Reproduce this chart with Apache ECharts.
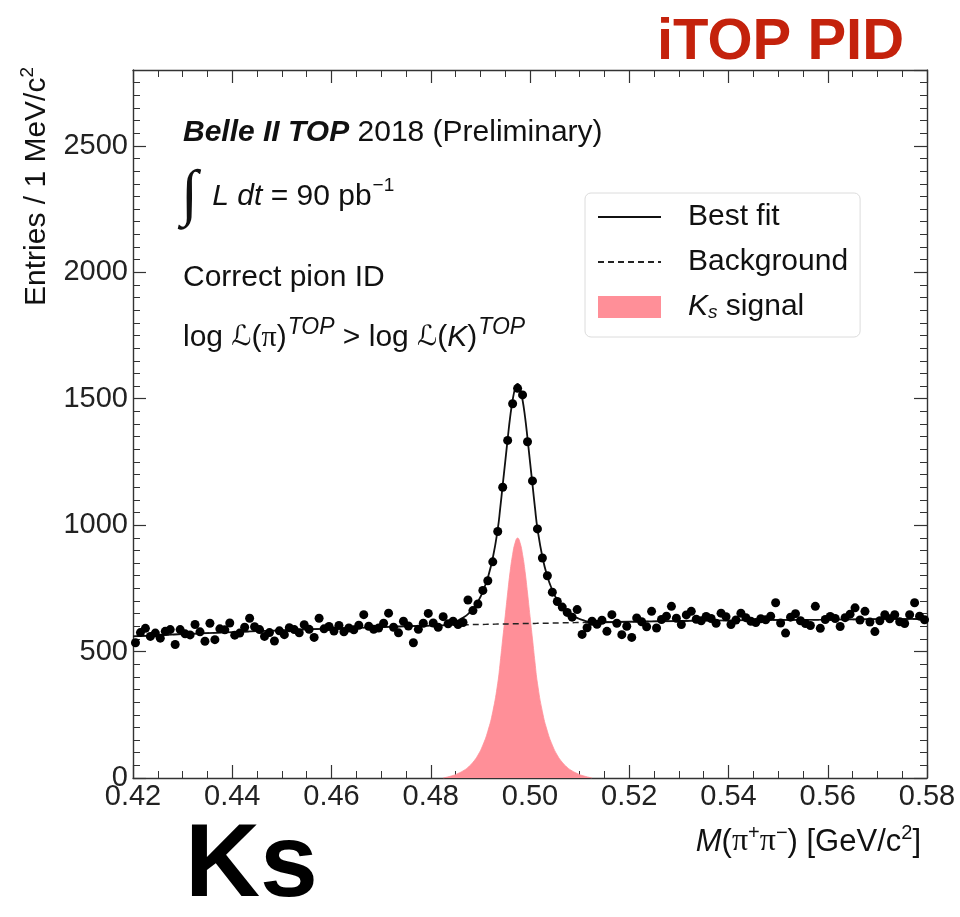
<!DOCTYPE html>
<html>
<head>
<meta charset="utf-8">
<script src="https://cdn.jsdelivr.net/npm/echarts@6/dist/echarts.min.js"></script>
<style>html,body{margin:0;padding:0;background:#fff}#c{width:960px;height:917px}</style>
</head>
<body>
<div id="c"></div>
<script>
// ---- histogram binning (1 MeV bins from 0.42 to 0.58 GeV) ----
const binLow = 0.42;
const binWidth = 0.001;

// ---- entries per bin ----
const counts = [
  535, 575, 592, 560, 573, 553, 580, 587, 528, 587,
  570, 566, 607, 578, 541, 612, 547, 590, 586, 613,
  565, 573, 596, 632, 598, 587, 560, 575, 542, 582,
  567, 594, 587, 574, 606, 588, 556, 632, 590, 599,
  581, 603, 578, 593, 586, 604, 646, 600, 588, 593,
  612, 652, 596, 574, 620, 601, 535, 588, 612, 651,
  613, 596, 638, 610, 620, 607, 615, 704, 662, 688,
  742, 780, 855, 975, 1150, 1335, 1480, 1541, 1515, 1330,
  1175, 985, 870, 800, 735, 698, 676, 655, 636, 666,
  568, 594, 620, 608, 624, 580, 646, 612, 567, 600,
  556, 633, 618, 598, 659, 593, 627, 640, 679, 632,
  607, 645, 659, 628, 622, 639, 631, 612, 652, 638,
  607, 625, 652, 634, 620, 615, 630, 626, 640, 693,
  613, 573, 636, 650, 622, 611, 603, 679, 592, 627,
  639, 631, 599, 634, 648, 673, 625, 659, 617, 579,
  622, 646, 630, 646, 618, 611, 646, 693, 640, 626
];

// ---- fit curves sampled at these masses ----
const fitMass = [
  0.420, 0.430, 0.440, 0.450, 0.460, 0.470, 0.480,
  0.4825, 0.4845, 0.4855, 0.4865, 0.4875, 0.4885, 0.4895, 0.4905, 0.4915, 0.4925,
  0.4935, 0.4940, 0.4945, 0.4950, 0.4955, 0.4960, 0.4965, 0.4970, 0.4975,
  0.4980, 0.4985, 0.4990, 0.4995, 0.5000, 0.5005, 0.5010, 0.5015, 0.5025,
  0.5035, 0.5045, 0.5055, 0.5065, 0.5075, 0.5085, 0.5095, 0.5105, 0.5125,
  0.520, 0.530, 0.540, 0.550, 0.560, 0.570, 0.580
];
const bgFit = [
  560, 569, 577, 584, 591, 597, 603,
  604, 605, 605, 606, 606, 607, 607, 607, 608, 608,
  609, 609, 609, 609, 609, 610, 610, 610, 610,
  610, 611, 611, 611, 611, 611, 611, 612, 612,
  612, 613, 613, 614, 614, 614, 615, 615, 616,
  618, 621, 623, 625, 626, 628, 629
];
const sigFit = [
  0, 0, 0, 0, 0, 0, 0,
  0, 10, 18, 28, 42, 62, 90, 130, 185, 262,
  375, 458, 550, 640, 732, 817, 884, 930, 949,
  930, 884, 817, 732, 640, 550, 458, 375, 262,
  185, 130, 90, 62, 42, 28, 18, 10, 0,
  0, 0, 0, 0, 0, 0, 0
];

// ---- axes ----
const xRange = [0.42, 0.58];
const xStep = 0.02;
const yRange = [0, 2800];
const yStep = 500;
const yMinorStep = 50;

const legendNames = ['Best fit', 'Background', 'K_s signal'];

// ---------------------------------------------------------------
const FONT = 'Liberation Sans, Arial, Helvetica, sans-serif';
const SERIF = 'Liberation Serif, DejaVu Serif, serif';
const INK = '#111';
const FRAME = '#333';
const PINK = '#ff8f98';

const dataPts = counts.map((v, i) => [+(binLow + (i + 0.5) * binWidth).toFixed(4), v]);
const bgLine = fitMass.map((m, i) => [m, bgFit[i]]);
const fitLine = fitMass.map((m, i) => [m, bgFit[i] + sigFit[i]]);
const sigArea = fitMass.map((m, i) => [m, sigFit[i]]).filter(p => p[0] > 0.482 && p[0] < 0.513);

const chart = echarts.init(document.getElementById('c'), null, {renderer: 'canvas'});

function frameAxis(extra) {
  return Object.assign({
    type: 'value',
    axisLine: {show: true, onZero: false, lineStyle: {color: FRAME, width: 1.4}},
    axisTick: {show: true, inside: true, length: 13, lineStyle: {color: FRAME, width: 1.2}},
    axisLabel: {show: false},
    splitLine: {show: false}
  }, extra);
}

const option = {
  animation: false,
  backgroundColor: '#fff',
  grid: {left: 133, right: 33, top: 70, bottom: 139, containLabel: false, outerBoundsMode: 'none'},
  xAxis: [
    frameAxis({
      position: 'bottom', min: xRange[0], max: xRange[1], interval: xStep,
      minorTick: {show: true, splitNumber: 4, length: 7, lineStyle: {color: FRAME, width: 1}},
      axisLabel: {show: true, fontFamily: FONT, fontSize: 29, color: '#222', margin: 4,
        showMinLabel: true, showMaxLabel: true, formatter: v => v.toFixed(2)}
    }),
    frameAxis({
      position: 'top', min: xRange[0], max: xRange[1], interval: xStep,
      minorTick: {show: true, splitNumber: 4, length: 7, lineStyle: {color: FRAME, width: 1}}
    })
  ],
  yAxis: [
    frameAxis({
      position: 'left', min: yRange[0], max: yRange[1], interval: yStep,
      axisLabel: {show: true, fontFamily: FONT, fontSize: 29, color: '#222', margin: 5,
        showMaxLabel: false, showMinLabel: true, formatter: v => String(v)}
    }),
    frameAxis({position: 'right', min: yRange[0], max: yRange[1], interval: yStep}),
    frameAxis({position: 'left', min: yRange[0], max: yRange[1], interval: yMinorStep,
      axisLine: {show: false}, axisTick: {show: true, inside: true, length: 7, lineStyle: {color: FRAME, width: 1}}}),
    frameAxis({position: 'right', min: yRange[0], max: yRange[1], interval: yMinorStep,
      axisLine: {show: false}, axisTick: {show: true, inside: true, length: 7, lineStyle: {color: FRAME, width: 1}}})
  ],
  legend: {
    show: true, orient: 'vertical', left: 585, top: 193,
    data: [
      {name: legendNames[0], itemStyle: {opacity: 0}},
      {name: legendNames[1], itemStyle: {opacity: 0}},
      {name: legendNames[2], icon: 'rect'}
    ],
    selectedMode: false,
    itemWidth: 63, itemHeight: 22, itemGap: 15,
    padding: [9, 12, 15, 12],
    backgroundColor: '#fff', borderColor: '#dcdcdc', borderWidth: 1, borderRadius: 6,
    textStyle: {
      fontFamily: FONT, fontSize: 30, color: INK, lineHeight: 30, padding: [0, 0, 0, 22],
      rich: {
        it: {fontFamily: FONT, fontSize: 30, fontStyle: 'italic', color: INK},
        sub: {fontFamily: FONT, fontSize: 19, fontStyle: 'italic', color: INK, padding: [11, 0, 0, 0]},
        n: {fontFamily: FONT, fontSize: 30, color: INK}
      }
    },
    formatter: name => name === 'K_s signal' ? '{it|K}{sub|s}{n| signal}' : name
  },
  series: [
    {
      name: 'K_s signal', type: 'line', data: sigArea, symbol: 'none',
      smooth: 0.5,
      lineStyle: {width: 0.8, color: PINK}, itemStyle: {color: PINK},
      areaStyle: {color: PINK, opacity: 1}, z: 1, silent: true
    },
    {
      name: 'Background', type: 'line', data: bgLine, symbol: 'none', smooth: 0.3,
      lineStyle: {width: 1.4, color: '#222', type: [6, 4]}, itemStyle: {color: '#222'}, z: 2, silent: true
    },
    {
      name: 'Best fit', type: 'line', data: fitLine, symbol: 'none',
      smooth: 0.5,
      lineStyle: {width: 1.8, color: '#111'}, itemStyle: {color: '#111'}, z: 3, silent: true
    },
    {
      name: 'data', type: 'scatter', data: dataPts, symbol: 'circle', symbolSize: 9,
      itemStyle: {color: '#000', opacity: 1}, z: 4, silent: true
    }
  ],
  graphic: [
    {type: 'text', x: 657, y: 43, style: {text: 'iTOP PID', fontFamily: FONT, fontWeight: 'bold', fontSize: 58, fill: '#c4220c', align: 'left', verticalAlign: 'middle'}},
    {type: 'text', x: 185, y: 867, style: {text: 'Ks', fontFamily: FONT, fontWeight: 'bold', fontSize: 104, fill: '#000', align: 'left', verticalAlign: 'middle'}},
    {type: 'text', x: 183, y: 133, style: {
      text: '{b|Belle II TOP}{n| 2018 (Preliminary)}', align: 'left', verticalAlign: 'middle',
      fontFamily: FONT, fontSize: 30, fill: INK,
      rich: {b: {fontFamily: FONT, fontSize: 30, fontWeight: 'bold', fontStyle: 'italic', fill: INK},
             n: {fontFamily: FONT, fontSize: 30, fill: INK}}}},
    {type: 'text', x: 181, y: 197, style: {
      text: '{int|∫}{it| L dt}{n| = 90 pb}{sup|−1}', align: 'left', verticalAlign: 'middle',
      fontFamily: FONT, fontSize: 30, fill: INK,
      rich: {int: {fontFamily: SERIF, fontSize: 62, fill: INK, padding: [0, 6, 0, 0]},
             it: {fontFamily: FONT, fontSize: 30, fontStyle: 'italic', fill: INK},
             n: {fontFamily: FONT, fontSize: 30, fill: INK},
             sup: {fontFamily: FONT, fontSize: 19, fill: INK, padding: [0, 0, 22, 1]}}}},
    {type: 'text', x: 183, y: 278, style: {text: 'Correct pion ID', align: 'left', verticalAlign: 'middle', fontFamily: FONT, fontSize: 30, fill: INK}},
    {type: 'text', x: 183, y: 338, style: {
      text: '{n|log }{sc|ℒ}{n|(}{pi|π}{n|)}{sup|TOP}{n| > log }{sc|ℒ}{n|(}{it|K}{n|)}{sup|TOP}',
      align: 'left', verticalAlign: 'middle', fontFamily: FONT, fontSize: 30, fill: INK,
      rich: {n: {fontFamily: FONT, fontSize: 30, fill: INK},
             sc: {fontFamily: 'DejaVu Sans', fontSize: 28, fontStyle: 'italic', fill: INK},
             pi: {fontFamily: SERIF, fontSize: 30, fill: INK},
             it: {fontFamily: FONT, fontSize: 30, fontStyle: 'italic', fill: INK},
             sup: {fontFamily: FONT, fontSize: 23, fontStyle: 'italic', fill: INK, padding: [0, 0, 20, 1]}}}},
    {type: 'text', x: 37, y: 67, rotation: Math.PI / 2, style: {
      text: 'Entries / 1 MeV/c{sup|2}', align: 'right', verticalAlign: 'middle',
      fontFamily: FONT, fontSize: 30, fill: INK,
      rich: {sup: {fontFamily: FONT, fontSize: 19, fill: INK, padding: [0, 0, 18, 0]}}}},
    {type: 'text', x: 921, y: 842, style: {
      text: '{it|M}{n|(}{pi|π}{sup|+}{pi|π}{sup|−}{n|) [GeV/c}{sup|2}{n|]}',
      align: 'right', verticalAlign: 'middle', fontFamily: FONT, fontSize: 31, fill: INK,
      rich: {it: {fontFamily: FONT, fontSize: 31, fontStyle: 'italic', fill: INK},
             n: {fontFamily: FONT, fontSize: 31, fill: INK},
             pi: {fontFamily: SERIF, fontSize: 32, fill: INK},
             sup: {fontFamily: FONT, fontSize: 20, fill: INK, padding: [0, 0, 18, 0]}}}}
  ]
};
chart.setOption(option);
</script>
</body>
</html>
